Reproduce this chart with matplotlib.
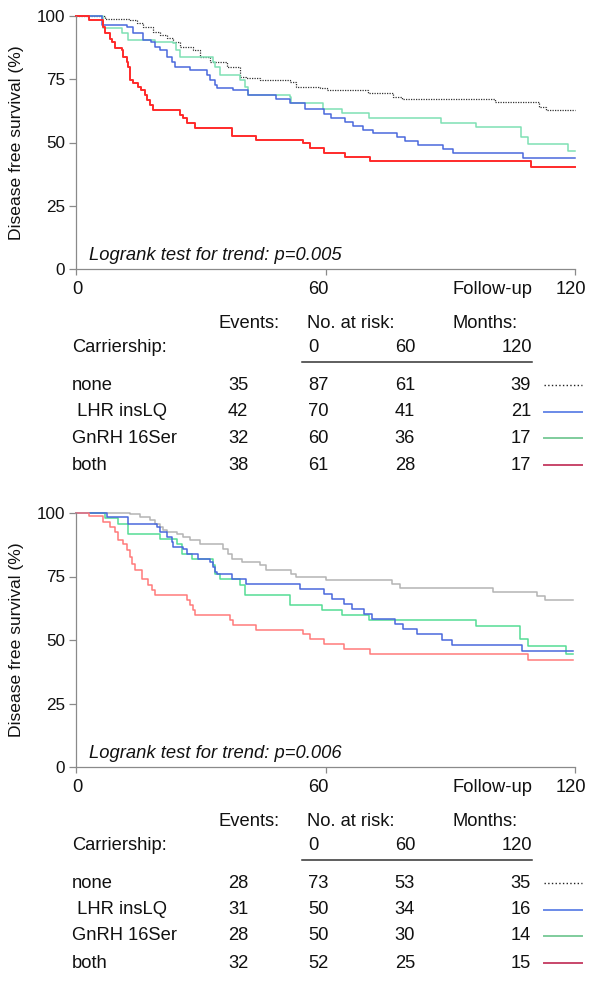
import matplotlib
matplotlib.use("Agg")
import matplotlib.pyplot as plt

plt.rcParams['font.family'] = ['Liberation Sans', 'DejaVu Sans']

W, H = 600, 981

# --- data: Kaplan-Meier steps (month, survival %) ---
top_none_t = [0, 7, 13, 14.6, 16.2, 18.6, 20.2, 21.8, 23.4, 25, 28.2, 29.8, 32.2, 36.2,
              39.4, 41, 44.2, 51.4, 53, 58.7, 60.3, 70.3, 76.3, 78.3, 100.7, 111.4, 113.1, 120]
top_none_s = [100, 98.8, 98.4, 97.1, 95.8, 93.8, 92.5, 91.2, 89.9, 87.9, 86.6, 83.9, 82, 80,
              76, 75.4, 74.7, 74, 72.1, 71.4, 70.8, 69.7, 68.1, 67.2, 65.9, 64.2, 62.8, 62.8]
top_lhr_t = [0, 6.2, 12.2, 13.8, 16.2, 18, 19, 20.2, 21.8, 23, 23.8, 27.4, 31.4, 32.2, 33.4,
             34, 37.8, 41.4, 48.2, 51.4, 55, 59.6, 61.4, 64.7, 66.7, 69.1, 71.5, 77.1, 79.1,
             82.3, 88.3, 90.7, 107.5, 120]
top_lhr_s = [100, 96.4, 95.8, 93.1, 90.5, 89.9, 87.9, 86.6, 83.9, 82, 80, 78.7, 76.7, 74.7, 72.7,
             71.4, 70.8, 68.8, 67.1, 65.5, 63.2, 61.2, 59.6, 58.2, 56.5, 54.9, 53.6, 52.0, 50.6,
             49.0, 47.4, 46.0, 44.0, 44.0]
top_gnrh_t = [0, 6.6, 11, 12.6, 19, 23.4, 24, 25, 33, 33.4, 34.6, 39.4, 40.6, 41.4, 51.4, 51.8,
              59.4, 63.9, 70.5, 87.7, 96.3, 106.9, 108.7, 118.3, 120]
top_gnrh_s = [100, 95.1, 93.1, 90.5, 89.9, 89.2, 86.6, 83.9, 82, 80, 76.7, 74.7, 72.1, 68.8, 68.1,
              65.5, 63.2, 61.5, 59.8, 57.8, 56, 52.3, 49.3, 46.6, 46.6]
top_both_t = [0, 3.2, 6.4, 7.0, 8.2, 8.6, 9.4, 11, 11.4, 12.2, 12.6, 13, 13.8, 15, 15.6, 16.6,
              17, 17.8, 18.6, 25, 25.8, 26.6, 28.6, 37.4, 43.4, 54.6, 56.2, 59.6, 64.7, 70.7,
              109.3, 120]
top_both_s = [100, 98.4, 95.8, 93.1, 90.8, 89.9, 87.2, 86.6, 83.9, 82, 80, 74.7, 73.4, 72.1, 70.8,
              68.8, 66.8, 64.8, 62.8, 60.9, 59.6, 57.6, 55.9, 52.6, 51.0, 49.7, 47.7, 46.0, 44.4,
              42.7, 40.4, 40.4]

bot_none_t = [0, 13, 15.4, 17.8, 19, 20.2, 21, 21.8, 24.2, 25.8, 27.4, 29.8, 35.4, 36.6, 37.4,
              39.8, 44.2, 45.8, 51.8, 53, 60, 75.9, 77.9, 100.3, 110.9, 112.7, 119.5]
bot_none_s = [100, 99.7, 98.4, 97.1, 95.8, 94.5, 93.2, 92.5, 91.9, 90.6, 89.2, 87.9, 86, 84, 82,
              80.7, 79.4, 77.4, 76.1, 74.8, 73.5, 72.2, 70.6, 68.9, 67.2, 65.6, 65.6]
bot_lhr_t = [0, 7.4, 12.6, 19.4, 20.2, 21.8, 23, 23.4, 25.8, 26.6, 29.4, 32.2, 33, 33.4, 33.8,
             37.4, 41, 53.8, 59.6, 61.6, 64.4, 66.4, 69.2, 71.2, 76.6, 78.7, 81.9, 88.1, 90.5,
             107.3, 119.5]
bot_lhr_s = [100, 98.4, 95.8, 94.5, 92.5, 90.6, 88.6, 86.6, 85.9, 84, 82, 80.7, 78.7, 76.8, 76.1,
             74.1, 72.2, 70.2, 68.2, 66.3, 64.3, 62.3, 60.4, 58.4, 56.4, 54.5, 52.2, 50.1, 47.9,
             45.5, 45.5]
bot_gnrh_t = [0, 7, 10.2, 12.6, 20.2, 24.2, 25.4, 27.8, 33, 33.4, 34.6, 39.4, 40.6, 51.4, 59.1,
              64, 70.4, 96.3, 106.8, 108.8, 117.8, 119.5]
bot_gnrh_s = [100, 98, 95.8, 91.9, 89.9, 87.9, 84, 82, 79.4, 76.1, 74.1, 71.5, 67.6, 63.6, 61.7,
              59.7, 57.7, 55.4, 50.5, 47.6, 44.4, 44.4]
bot_both_t = [0, 3.2, 6.6, 8.2, 9.4, 10.2, 11.4, 12.2, 13, 13.4, 14.2, 15.8, 17.4, 18.2, 19,
              26.6, 27.4, 28.2, 28.6, 37, 37.8, 43.4, 54.6, 56.2, 59.6, 64.4, 70.7, 108.8, 119.5]
bot_both_s = [100, 98.7, 96.5, 94.5, 92.5, 89.2, 87.9, 85.3, 82.7, 80, 77.4, 74.1, 71.5, 69.6,
              67.6, 65.6, 63.6, 61.7, 59.7, 57.7, 55.8, 54.1, 52.5, 50.5, 48.3, 46.3, 44.4, 42.0,
              42.0]

# --- data: tables ---
groups = ["none", " LHR insLQ", "GnRH 16Ser", "both"]
top_events = [35, 42, 32, 38]
top_risk0 = [87, 70, 60, 61]
top_risk60 = [61, 41, 36, 28]
top_risk120 = [39, 21, 17, 17]
bot_events = [28, 31, 28, 32]
bot_risk0 = [73, 50, 50, 52]
bot_risk60 = [53, 34, 30, 25]
bot_risk120 = [35, 16, 14, 15]
y_ticks = [0, 25, 50, 75, 100]
x_ticks = [0, 60, 120]

fig = plt.figure(figsize=(W / 100, H / 100), dpi=100)
FS = 13.2


def px(x, y):
    # pixel (from top-left) -> figure fraction
    return x / W, 1 - y / H


def text(x, y, s, **kw):
    fx, fy = px(x, y)
    fig.text(fx, fy, s, fontsize=FS, va="center", color="#111111", **kw)


def panel(top_px, bottom_px, curves, p_text, events, risk0, risk60, risk120):
    left, right = 76, 575
    ax = fig.add_axes([left / W, 1 - bottom_px / H, (right - left) / W, (bottom_px - top_px) / H])
    for t, s, color, lw, ls in curves:
        ax.step(t, s, where="post", color=color, lw=lw, ls=ls, clip_on=False)
    ax.set_xlim(0, 120)
    ax.set_ylim(0, 100)
    for side in ["top", "right"]:
        ax.spines[side].set_visible(False)
    for side in ["left", "bottom"]:
        ax.spines[side].set_color("#8a8a8a")
        ax.spines[side].set_linewidth(0.9)
    ax.set_yticks(y_ticks)
    ax.set_yticklabels([str(v) for v in y_ticks], fontsize=12.3, color="#111111")
    ax.set_xticks(x_ticks)
    ax.set_xticklabels([])
    ax.tick_params(axis="y", length=5, width=0.9, color="#8a8a8a", pad=3)
    ax.tick_params(axis="x", length=4, width=0.9, color="#8a8a8a")
    ax.set_ylabel("Disease free survival (%)", fontsize=12.6, color="#111111")
    ax.yaxis.set_label_coords(-0.104, 0.5)
    ax.text(0.026, 0.055, p_text, transform=ax.transAxes, fontsize=13.2, style="italic",
            va="center", color="#111111")

    b = bottom_px
    # x tick labels
    text(77, b + 20, "0", ha="center")
    text(318, b + 20, "60", ha="center")
    text(532, b + 20, "Follow-up", ha="right")
    text(556, b + 20, "120", ha="left")
    # headers
    text(218, b + 54, "Events:", ha="left")
    text(307, b + 54, "No. at risk:", ha="left")
    text(453, b + 54, "Months:", ha="left")
    text(72, b + 79, "Carriership:", ha="left")
    text(308, b + 79, "0", ha="left")
    text(415, b + 79, "60", ha="right")
    text(532, b + 79, "120", ha="right")
    x0, y0 = px(302, b + 93)
    x1, _ = px(532, b + 93)
    fig.add_artist(plt.Line2D([x0, x1], [y0, y0], color="#333333", lw=1.1))

    legend_styles = [("#222222", ":"), ("#6a8ae8", "-"), ("#7fcc9c", "-"), ("#c8466a", "-")]
    row_y = [116, 143, 169, 196]
    for i, g in enumerate(groups):
        y = b + row_y[i]
        text(72, y, g, ha="left")
        text(238, y, str(events[i]), ha="center")
        text(308, y, str(risk0[i]), ha="left")
        text(415, y, str(risk60[i]), ha="right")
        text(531, y, str(risk120[i]), ha="right")
        lx0, ly = px(544, y)
        lx1, _ = px(582, y)
        color, ls = legend_styles[i]
        fig.add_artist(plt.Line2D([lx0, lx1], [ly, ly], color=color, ls=ls,
                                  lw=1.0 if ls == ":" else 1.4))
    return ax


top_curves = [
    (top_none_t, top_none_s, "#333333", 0.9, (0, (1, 1))),
    (top_gnrh_t, top_gnrh_s, "#7ee0b4", 1.1, "-"),
    (top_lhr_t, top_lhr_s, "#4a68dc", 1.1, "-"),
    (top_both_t, top_both_s, "#ff2a2a", 1.4, "-"),
]
bot_curves = [
    (bot_none_t, bot_none_s, "#b4b4b4", 1.1, "-"),
    (bot_gnrh_t, bot_gnrh_s, "#55dc95", 1.1, "-"),
    (bot_lhr_t, bot_lhr_s, "#4a68dc", 1.1, "-"),
    (bot_both_t, bot_both_s, "#ff7a7a", 1.1, "-"),
]

panel(16, 269, top_curves, "Logrank test for trend: p=0.005",
      top_events, top_risk0, top_risk60, top_risk120)
panel(513, 767, bot_curves, "Logrank test for trend: p=0.006",
      bot_events, bot_risk0, bot_risk60, bot_risk120)

fig.savefig("out.png", dpi=100)
